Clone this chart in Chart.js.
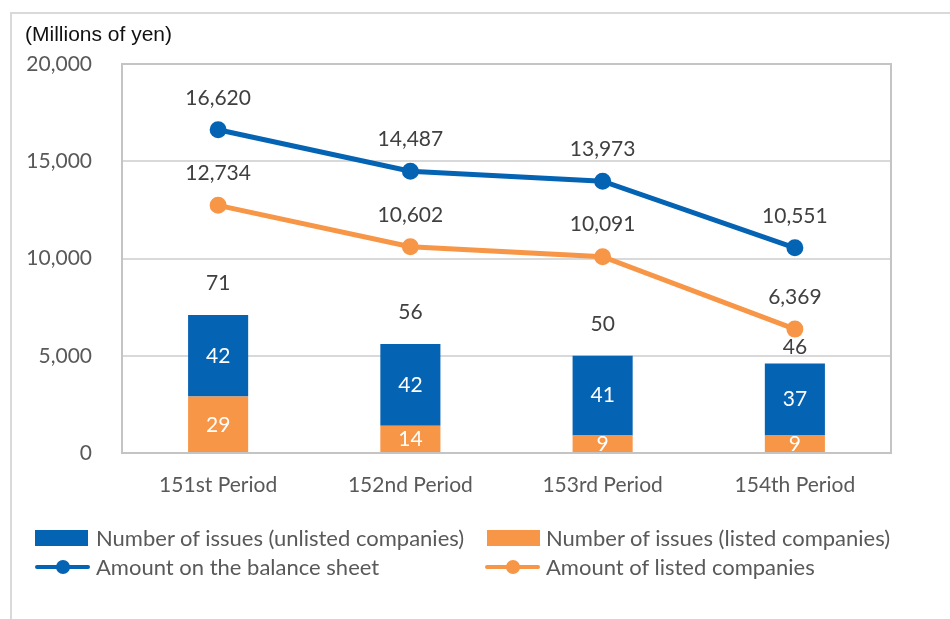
<!DOCTYPE html>
<html>
<head>
<meta charset="utf-8">
<script src="https://cdn.jsdelivr.net/npm/chart.js@4.4.0/dist/chart.umd.min.js"></script>
<style>
  body { margin: 0; background: #fff; }
  #wrap { position: relative; width: 950px; height: 619px; overflow: hidden; }
  #frame { position: absolute; left: 10px; top: 12px; width: 2000px; height: 2000px;
           border-left: 2px solid #d9d9d9; border-top: 2px solid #d9d9d9; }
  #unit { position: absolute; left: 25px; top: 22px; font: 21px "Liberation Sans", Arial, sans-serif; color: #111; }
  canvas { position: absolute; left: 0; top: 0; }
  .lg { position: absolute; font: 22px Lato, sans-serif; color: #595959; line-height: 22px; white-space: nowrap; }
  .sw { position: absolute; width: 53px; height: 16px; }
  .ln { position: absolute; width: 55px; height: 4px; border-radius: 2px; }
  .ln i { position: absolute; left: 21px; top: -5px; width: 14px; height: 14px; border-radius: 50%; background: inherit; }
</style>
</head>
<body>
<div id="wrap">
  <div id="frame"></div>
  <canvas id="myChart" width="950" height="619"></canvas>
  <div id="unit">(Millions of yen)</div>
  <div class="sw" style="left:35px;top:530px;background:#0563B3"></div>
  <div class="lg" style="left:96px;top:527px">Number of issues (unlisted companies)</div>
  <div class="sw" style="left:487px;top:530px;background:#F79646"></div>
  <div class="lg" style="left:546px;top:527px">Number of issues (listed companies)</div>
  <div class="ln" style="left:35px;top:565px;background:#0563B3"><i></i></div>
  <div class="lg" style="left:96px;top:556px">Amount on the balance sheet</div>
  <div class="ln" style="left:485px;top:565px;background:#F79646"><i></i></div>
  <div class="lg" style="left:546px;top:556px">Amount of listed companies</div>
</div>
<script>
const labels = ['151st Period', '152nd Period', '153rd Period', '154th Period'];
const unlistedIssues = [42, 42, 41, 37];
const listedIssues = [29, 14, 9, 9];
const balanceAmount = [16620, 14487, 13973, 10551];
const listedAmount = [12734, 10602, 10091, 6369];
const yTicks = [0, 5000, 10000, 15000, 20000];

const blue = '#0563B3';
const orange = '#F79646';
const fmt = v => v.toLocaleString('en-US');

// draws the value labels, like Excel data labels
const labelPlugin = {
  id: 'valueLabels',
  afterDatasetsDraw(chart) {
    const ctx = chart.ctx;
    const area = chart.chartArea;
    ctx.save();
    ctx.font = '21px Lato, sans-serif';
    ctx.textAlign = 'center';
    ctx.textBaseline = 'middle';

    // line labels above points
    const linePts = [];
    [2, 3].forEach(i => {
      chart.getDatasetMeta(i).data.forEach((p, j) => {
        linePts.push(p);
        ctx.fillStyle = '#404040';
        ctx.fillText(fmt(chart.data.datasets[i].data[j]), p.x, p.y - 32);
      });
    });

    // bar segment labels, clipped to the plot
    ctx.save();
    ctx.beginPath();
    ctx.rect(area.left, area.top, area.right - area.left, area.bottom - area.top);
    ctx.clip();
    [0, 1].forEach(i => {
      chart.getDatasetMeta(i).data.forEach((b, j) => {
        ctx.fillStyle = '#fff';
        ctx.fillText(chart.data.datasets[i].data[j], b.x, (b.y + b.base) / 2);
      });
    });
    ctx.restore();

    // totals above the stacks
    const tops = chart.getDatasetMeta(1).data;
    tops.forEach((b, j) => {
      let y = b.y - 32;
      linePts.forEach(p => {
        if (Math.abs(p.x - b.x) < 5 && Math.abs(p.y - y) < 14) y = p.y + 18;
      });
      ctx.fillStyle = '#404040';
      ctx.fillText(listedIssues[j] + unlistedIssues[j], b.x, y);
    });
    ctx.restore();
  }
};

// gray box round the plot area
const boxPlugin = {
  id: 'plotBox',
  afterDraw(chart) {
    const a = chart.chartArea;
    const ctx = chart.ctx;
    ctx.save();
    ctx.strokeStyle = '#c4c4c4';
    ctx.lineWidth = 2;
    ctx.strokeRect(a.left, a.top, a.right - a.left, a.bottom - a.top);
    ctx.restore();
  }
};

const data = {
  labels: labels,
  datasets: [{
    type: 'bar',
    label: 'Number of issues (listed companies)',
    data: listedIssues,
    backgroundColor: orange,
    yAxisID: 'y1',
    order: 1,
    barPercentage: 0.3125,
    categoryPercentage: 1
  }, {
    type: 'bar',
    label: 'Number of issues (unlisted companies)',
    data: unlistedIssues,
    backgroundColor: blue,
    yAxisID: 'y1',
    order: 1,
    barPercentage: 0.3125,
    categoryPercentage: 1
  }, {
    type: 'line',
    label: 'Amount on the balance sheet',
    data: balanceAmount,
    borderColor: blue,
    backgroundColor: blue,
    borderWidth: 5,
    pointRadius: 6,
    yAxisID: 'y',
    order: 0
  }, {
    type: 'line',
    label: 'Amount of listed companies',
    data: listedAmount,
    borderColor: orange,
    backgroundColor: orange,
    borderWidth: 5,
    pointRadius: 6,
    yAxisID: 'y',
    order: 0
  }]
};

const config = {
  type: 'bar',
  data: data,
  options: {
    responsive: false,
    animation: false,
    layout: { padding: { top: 64, right: 59, left: 0, bottom: 0 } },
    plugins: { legend: { display: false }, tooltip: { enabled: false } },
    scales: {
      x: {
        stacked: true,
        grid: { display: false, drawTicks: false },
        border: { display: false },
        ticks: { color: '#595959', font: { family: 'Lato', size: 21 }, padding: 20 },
        afterFit: s => { s.height = 166; }
      },
      y: {
        min: 0,
        max: 20000,
        afterBuildTicks: s => { s.ticks = yTicks.map(v => ({ value: v })); },
        grid: { color: '#d9d9d9', lineWidth: 2, drawTicks: false },
        border: { display: false },
        ticks: { color: '#595959', font: { family: 'Lato', size: 21 }, padding: 30, callback: v => fmt(v) },
        afterFit: s => { s.width = 122; }
      },
      y1: {
        display: false,
        stacked: true,
        min: 0,
        max: 200
      }
    }
  },
  plugins: [labelPlugin, boxPlugin]
};

const myChart = new Chart(document.getElementById('myChart'), config);
</script>
</body>
</html>
